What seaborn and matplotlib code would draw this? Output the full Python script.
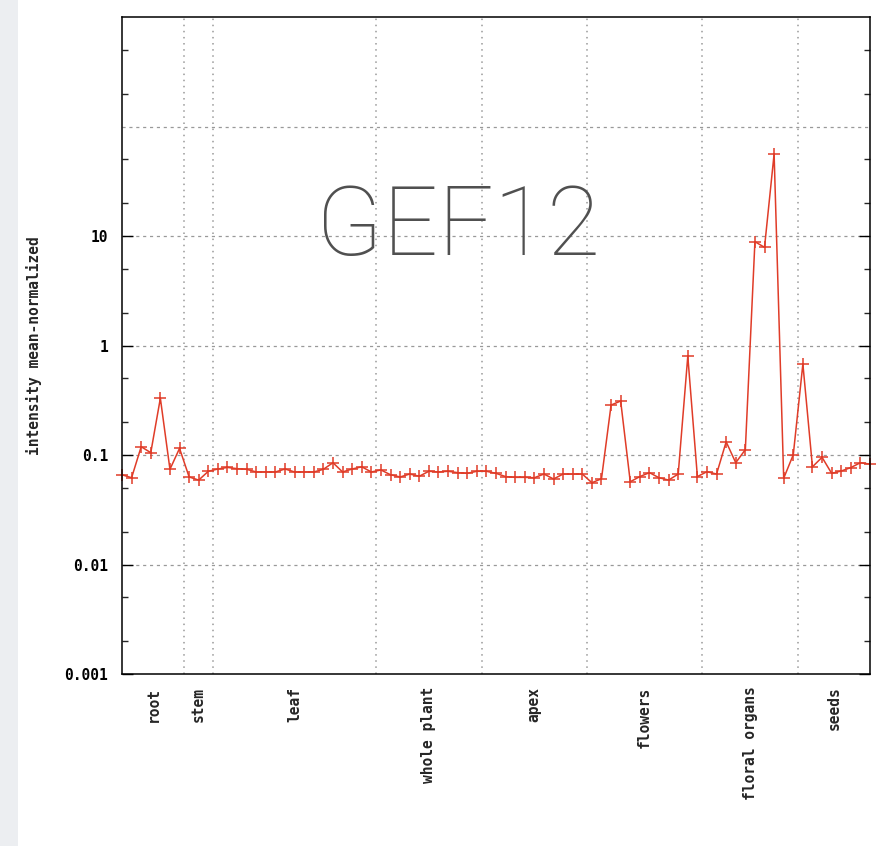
import numpy as np
import pandas as pd
import matplotlib
matplotlib.use("Agg")
import matplotlib.pyplot as plt
import seaborn as sns
from matplotlib.patches import Rectangle

# ---- data ----
groups = ["root", "stem", "leaf", "whole plant", "apex", "flowers", "floral organs", "seeds"]
group_sizes = [7, 3, 17, 11, 11, 12, 10, 8]
values = [
    0.066, 0.062, 0.119, 0.105, 0.33, 0.074, 0.115,            # root
    0.063, 0.059, 0.071,                                        # stem
    0.0745, 0.077, 0.075, 0.074, 0.070, 0.070, 0.070, 0.0745,   # leaf
    0.070, 0.070, 0.070, 0.074, 0.085, 0.070, 0.0745, 0.078, 0.070,
    0.073, 0.066, 0.063, 0.067, 0.064, 0.071, 0.070, 0.071,     # whole plant
    0.069, 0.068, 0.071,
    0.071, 0.068, 0.0635, 0.0625, 0.0625, 0.062, 0.067, 0.0604,  # apex
    0.067, 0.067, 0.067,
    0.0558, 0.0607, 0.286, 0.311, 0.057, 0.0635, 0.069, 0.062,   # flowers
    0.059, 0.067, 0.80, 0.0635,
    0.0704, 0.067, 0.132, 0.085, 0.112, 8.87, 7.88, 56.1,        # floral organs
    0.0613, 0.1006,
    0.678, 0.078, 0.0953, 0.068, 0.0714, 0.0768, 0.085, 0.0826,  # seeds
]
y_ticks = [0.001, 0.01, 0.1, 1, 10]
y_tick_labels = ["0.001", "0.01", "0.1", "1", "10"]
title = "GEF12"
y_label = "intensity mean-normalized"

df = pd.DataFrame({"idx": np.arange(len(values)), "value": values})

# ---- figure ----
sns.set_style("white")
fig = plt.figure(figsize=(8.94, 8.46), dpi=100)
fig.patch.set_facecolor("white")
fig.add_artist(Rectangle((0, 0), 18 / 894, 1, transform=fig.transFigure,
                         facecolor="#eceef1", edgecolor="none", zorder=0))

ax = fig.add_axes([122 / 894, 1 - 674 / 846, 748 / 894, 657 / 846])
line_color = "#e03c28"
sns.lineplot(data=df, x="idx", y="value", ax=ax, color=line_color,
             marker="+", markersize=9, markeredgewidth=1.1,
             markeredgecolor=line_color, linewidth=1.1, clip_on=False)

ax.set_yscale("log")
ax.set_ylim(0.001, 1000)
ax.set_xlim(0, len(values) - 1)

mono = {"family": "DejaVu Sans Mono", "weight": "bold", "size": 10.5}

ax.set_yticks(y_ticks)
ax.set_yticklabels(y_tick_labels, fontdict=mono)
ax.yaxis.set_minor_locator(matplotlib.ticker.LogLocator(base=10, subs=[2, 5], numticks=20))
ax.yaxis.set_minor_formatter(matplotlib.ticker.NullFormatter())
ax.tick_params(axis="y", which="major", direction="in", length=8, width=1,
               left=True, right=True, pad=10, colors="black")
ax.tick_params(axis="y", which="minor", direction="in", length=4, width=1,
               left=True, right=True)

# horizontal grid at decades
for yv in [0.01, 0.1, 1, 10, 100]:
    ax.axhline(yv, color="#999999", linestyle=(0, (2.5, 3)), linewidth=0.9, zorder=0)

# group separators and label positions
bounds = np.cumsum(group_sizes)
seps = bounds[:-1] - 0.5
for s in seps:
    ax.axvline(s, color="#999999", linestyle=(0, (1, 3)), linewidth=1.1, zorder=0)
lefts = np.concatenate([[0], seps])
rights = np.concatenate([seps, [len(values) - 1]])
centers = (lefts + rights) / 2
ax.set_xticks(centers)
ax.set_xticklabels(groups, rotation=90, fontdict=mono, va="top", ha="center")
ax.tick_params(axis="x", which="both", length=0, pad=9)
ax.set_xlabel("")
ax.set_ylabel(y_label, fontdict=mono, labelpad=16)

for sp in ax.spines.values():
    sp.set_visible(True)
    sp.set_color("black")
    sp.set_linewidth(1.1)

fig.text(458 / 894, 1 - 255 / 846, title, ha="center", va="baseline",
         fontsize=70, color="#505050", family="Roboto", fontweight="light")

fig.savefig("out.png", dpi=100)
